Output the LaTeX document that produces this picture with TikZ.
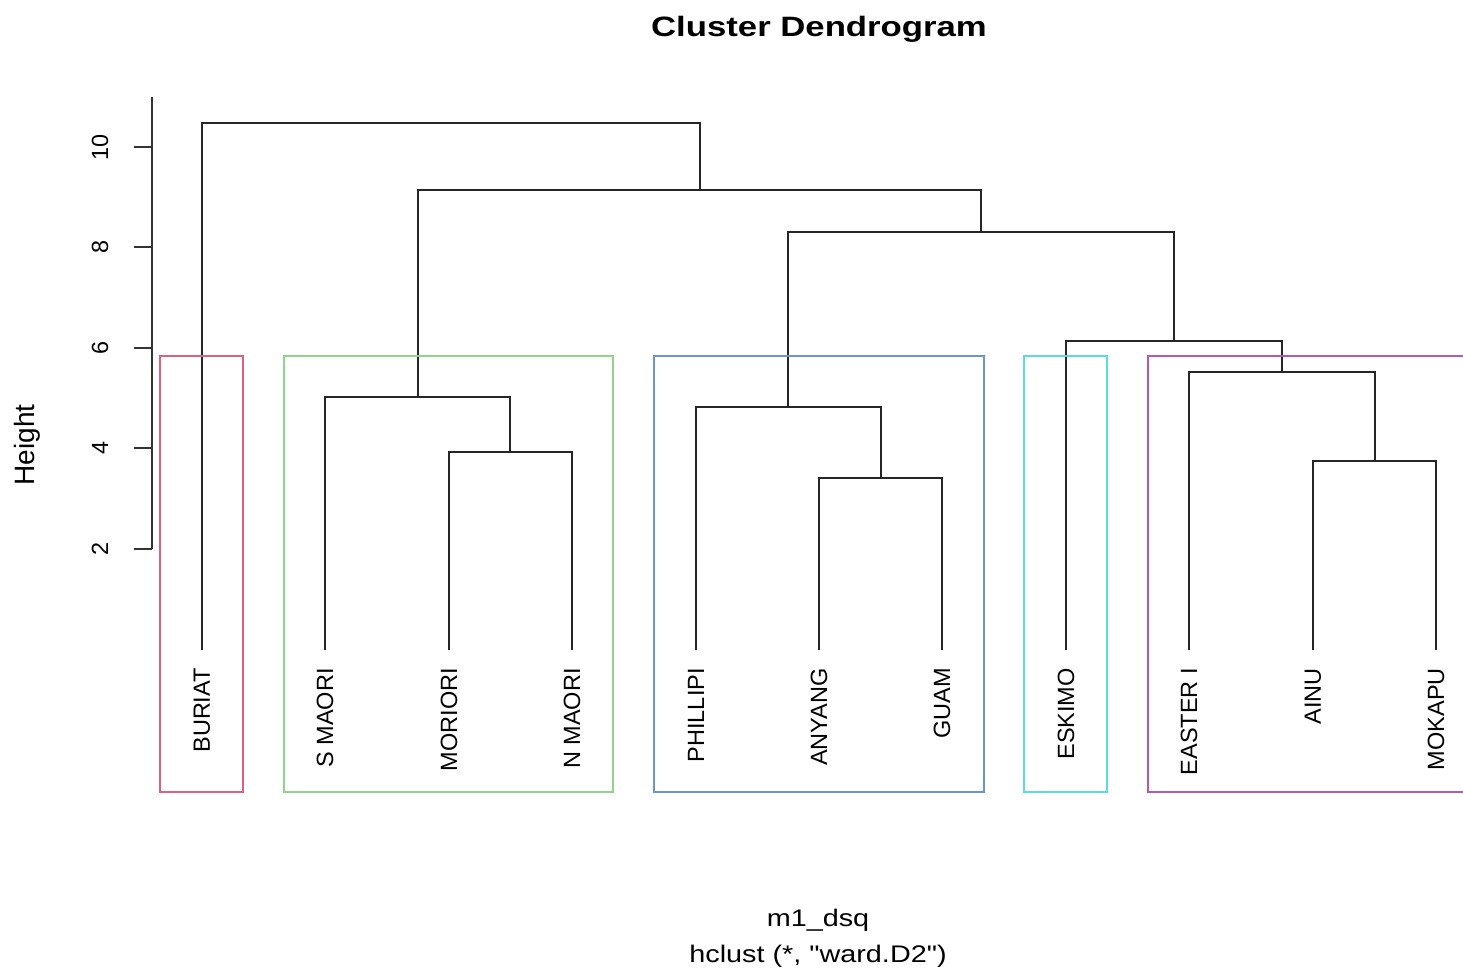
\documentclass[tikz,border=0pt]{standalone}
\usepackage{fontspec}
\setmainfont{Liberation Sans}
\newfontfamily\rawfont{Liberation Sans}[Ligatures=TeXOff]
\usepackage{xcolor}
\usepackage{tikz}
\usetikzlibrary{positioning}

\definecolor{boxred}{HTML}{DC6080}
\definecolor{boxgreen}{HTML}{8FD48A}
\definecolor{boxblue}{HTML}{6E94CC}
\definecolor{boxcyan}{HTML}{5EDCDC}
\definecolor{boxmagenta}{HTML}{B45AAE}

\begin{document}
\begin{tikzpicture}[x=1pt,y=-1pt,
  branch/.style={line width=1.8pt,black!85,line cap=rect},
  axisline/.style={line width=1.4pt,black!80},
  clusterbox/.style={line width=1.4pt},
  leaflabel/.style={rotate=90,anchor=east,inner sep=0pt,font=\fontsize{23.5}{28}\selectfont},
  ticklabel/.style={rotate=90,anchor=base,inner sep=0pt,font=\fontsize{23.4}{28}\selectfont},
  sublabel/.style={anchor=base,inner sep=0pt,xscale=1.2,font=\rawfont\fontsize{24}{29}\selectfont}]
  \useasboundingbox (0,0) rectangle (1463,974);

  % title
  \node[anchor=base,inner sep=0pt,xscale=1.24,font=\fontsize{28}{34}\selectfont\bfseries] (title) at (819,37) {Cluster Dendrogram};

  % height axis
  \coordinate (axtop) at (152,97);
  \coordinate (axbot) at (152,549);
  \draw[axisline] (axtop) -- (axbot);
  \foreach \v/\yy in {2/549,4/448,6/348,8/247,10/147} {
    \coordinate (tick\v) at (152,\yy);
    \coordinate (tickend\v) at (134,\yy);
    \draw[axisline] (tick\v) -- (tickend\v);
    \node[ticklabel] (ticklab\v) at (108,\yy) {\v};
  }
  \node[rotate=90,anchor=base,inner sep=0pt,font=\fontsize{28}{34}\selectfont] (ylab) at (34,445) {Height};

  % leaves
  \foreach \n/\xx/\t in {buriat/202/BURIAT, smaori/325/S MAORI, moriori/449/MORIORI,
      nmaori/572/N MAORI, phillipi/696/PHILLIPI, anyang/819/ANYANG, guam/942/GUAM,
      eskimo/1066/ESKIMO, easter/1189/EASTER I, ainu/1313/AINU, mokapu/1436/MOKAPU} {
    \coordinate (\n) at (\xx,649);
    \node[leaflabel] (\n-lab) at (\xx,668) {\t};
  }

  % merges
  \coordinate (mn)    at (510,452);
  \coordinate (maori) at (418,397);
  \coordinate (ag)    at (881,478);
  \coordinate (asia)  at (788,407);
  \coordinate (am)    at (1375,461);
  \coordinate (ea)    at (1282,372);
  \coordinate (esk)   at (1174,341);
  \coordinate (bl)    at (981,232);
  \coordinate (gr)    at (700,190);
  \coordinate (root)  at (451,123);

  \draw[branch] (moriori) |- (mn) -| (nmaori);
  \draw[branch] (smaori) |- (maori) -| (mn);
  \draw[branch] (anyang) |- (ag) -| (guam);
  \draw[branch] (phillipi) |- (asia) -| (ag);
  \draw[branch] (ainu) |- (am) -| (mokapu);
  \draw[branch] (easter) |- (ea) -| (am);
  \draw[branch] (eskimo) |- (esk) -| (ea);
  \draw[branch] (asia) |- (bl) -| (esk);
  \draw[branch] (maori) |- (gr) -| (bl);
  \draw[branch] (buriat) |- (root) -| (gr);

  % cluster boxes
  \draw[clusterbox,boxred] (160,356) rectangle (243,792);
  \draw[clusterbox,boxgreen] (284,356) rectangle (613,792);
  \draw[clusterbox,boxblue] (654,356) rectangle (984,792);
  \draw[clusterbox,boxcyan] (1024,356) rectangle (1107,792);
  \draw[clusterbox,boxmagenta] (1463,356) -- (1148,356) -- (1148,792) -- (1463,792);

  % x label
  \node[sublabel] (xlab) at (818,926) {m1\_dsq};
  \node[sublabel] (method) at (818,962) {hclust (*, "ward.D2")};
\end{tikzpicture}
\end{document}
